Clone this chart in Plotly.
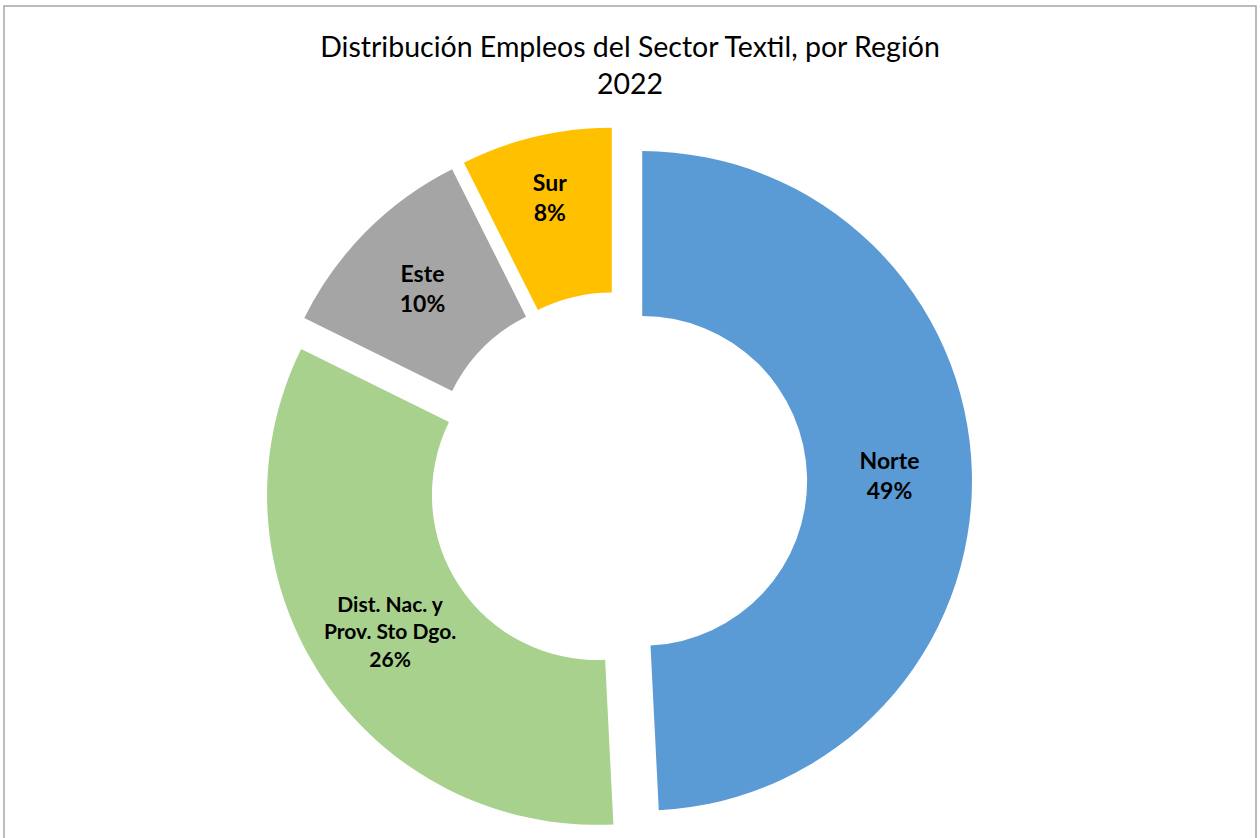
import plotly.graph_objects as go

# Data (angular shares; labels as printed on the chart)
regions = ["Norte", "Dist. Nac. y<br>Prov. Sto Dgo.", "Este", "Sur"]
shares = [49.2, 33.1, 10.3, 7.4]
pct_labels = ["49%", "26%", "10%", "8%"]
colors = ["#5B9BD5", "#A9D18E", "#A5A5A5", "#FFC000"]
label_sizes = [23, 21, 23, 23]

W, H = 1260, 838
ML, MR, MT, MB = 0, 25, 127, 2
pw, ph = W - ML - MR, H - MT - MB

fig = go.Figure(
    go.Pie(
        labels=regions,
        values=shares,
        text=pct_labels,
        texttemplate="%{label}<br>%{text}",
        textposition="inside",
        insidetextorientation="horizontal",
        insidetextfont=dict(family="Lato", size=label_sizes, color="black", weight="bold"),
        marker=dict(colors=colors, line=dict(width=0)),
        hole=0.5,
        pull=[0.075] * len(regions),
        sort=False,
        direction="clockwise",
        rotation=0,
        hoverinfo="none",
        showlegend=False,
    )
)

# chart border (Excel-like chart area frame)
fig.add_shape(
    type="rect",
    xref="paper", yref="paper",
    x0=(4 - ML) / pw, x1=(1256 - ML) / pw,
    y0=(H - MB - 850) / ph, y1=(H - MB - 6) / ph,
    line=dict(color="#A6A6A6", width=1.5),
    fillcolor="rgba(0,0,0,0)",
    layer="below",
)

fig.update_layout(
    width=W, height=H,
    margin=dict(l=ML, r=MR, t=MT, b=MB),
    paper_bgcolor="white",
    plot_bgcolor="white",
    title=dict(
        text="Distribución Empleos del Sector Textil, por Región<br>2022",
        x=0.5, xanchor="center",
        y=1 - 57 / H, yanchor="top",
        font=dict(family="Lato", size=28.5, color="black"),
    ),
    font=dict(family="Lato"),
)

fig.write_html(
    "out.html",
    config={"displayModeBar": False},
    post_script="document.body.style.margin='0';",
)
